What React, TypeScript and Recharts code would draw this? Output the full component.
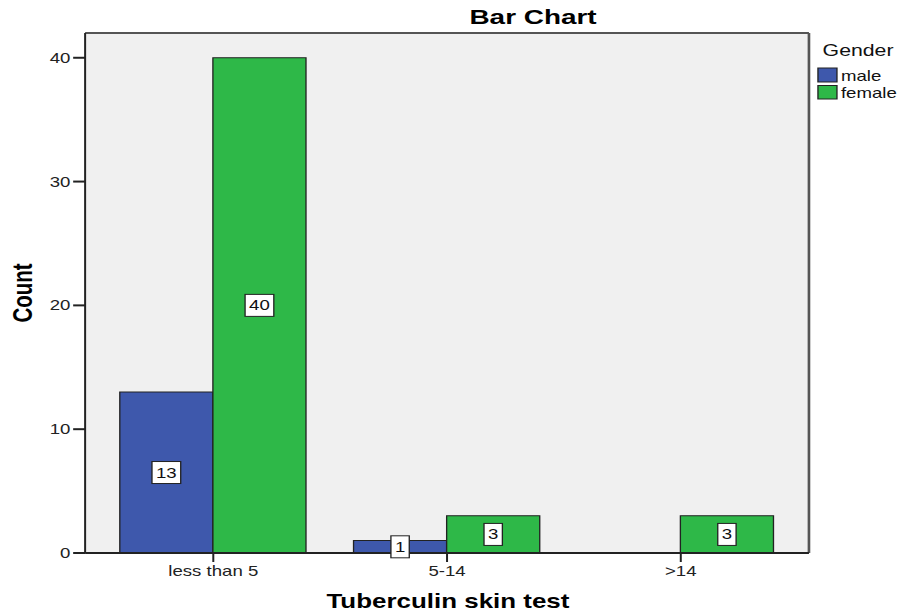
import { BarChart, Bar, XAxis, YAxis, CartesianGrid, LabelList } from 'recharts';

// SPSS export is stretched sideways, so draw narrow and scale the whole thing in x
const STRETCH = 1.33;
const WIDTH = 899 / STRETCH;
const HEIGHT = 616;

const categories = ['less than 5', '5-14', '>14'];
const maleCounts: (number | null)[] = [13, 1, null];
const femaleCounts: (number | null)[] = [40, 3, 3];
const yTicks = [0, 10, 20, 30, 40];

const MALE = '#3E58AC';
const FEMALE = '#2EB848';
const INK = '#222';
const FONT = '"Liberation Sans", Arial, sans-serif';

const data = categories.map((cat, i) => ({ cat, male: maleCounts[i], female: femaleCounts[i] }));

/** White boxed count in the middle of a bar, like SPSS data labels. */
function BoxLabel(props: any) {
  const { x, y, width, height, value } = props;
  if (value == null) return null;
  const cx = Number(x) + Number(width) / 2;
  const cy = Number(y) + Number(height) / 2;
  const w = String(value).length * 7.8 + 6;
  return (
    <g>
      <rect x={cx - w / 2} y={cy - 11} width={w} height={22} fill="#fff" stroke={INK} strokeWidth={1} />
      <text x={cx} y={cy + 5} textAnchor="middle" fontSize={14} fontFamily={FONT} fill="#111">{value}</text>
    </g>
  );
}

export default function App() {
  const tickStyle = { fill: INK, fontSize: 14, fontFamily: FONT };
  return (
    <div style={{ position: 'absolute', left: 0, top: 0, width: WIDTH, height: HEIGHT, transform: `scaleX(${STRETCH})`, transformOrigin: '0 0', background: '#fff' }}>
      <BarChart width={WIDTH} height={HEIGHT} data={data} margin={{ top: 33, right: 67.7, bottom: 33, left: 0 }} barCategoryGap="10%" barGap={0}>
        {/* grey plot area plus the top and right frame lines */}
        <CartesianGrid
          fill="#F0F0F0"
          stroke="#555"
          strokeWidth={2}
          horizontalCoordinatesGenerator={({ offset }: any) => [offset.top]}
          verticalCoordinatesGenerator={({ offset }: any) => [offset.left + offset.width]}
        />
        <XAxis dataKey="cat" height={30} padding={{ left: 8.5, right: 8.5 }} tick={tickStyle} tickSize={9} tickMargin={4.5} axisLine={{ stroke: INK, strokeWidth: 2 }} tickLine={{ stroke: INK, strokeWidth: 1.5 }} />
        <YAxis domain={[0, 42]} ticks={yTicks} width={64} tick={tickStyle} tickSize={9} tickMargin={2} axisLine={{ stroke: INK, strokeWidth: 1.5 }} tickLine={{ stroke: INK, strokeWidth: 2 }} />
        <Bar dataKey="male" fill={MALE} stroke={INK} strokeWidth={1} isAnimationActive={false}>
          <LabelList dataKey="male" content={BoxLabel} />
        </Bar>
        <Bar dataKey="female" fill={FEMALE} stroke={INK} strokeWidth={1} isAnimationActive={false}>
          <LabelList dataKey="female" content={BoxLabel} />
        </Bar>
      </BarChart>
      <svg width={WIDTH} height={HEIGHT} style={{ position: 'absolute', left: 0, top: 0, pointerEvents: 'none' }} fontFamily={FONT}>
        <text x={400.8} y={24} textAnchor="middle" fontSize={21} fontWeight="bold" fill="#000">Bar Chart</text>
        <text x={336.8} y={608} textAnchor="middle" fontSize={19.5} fontWeight="bold" fill="#000">Tuberculin skin test</text>
        <text transform="translate(24,293) rotate(-90)" textAnchor="middle" fontSize={20.5} fontWeight="bold" fill="#000" fontFamily={'"Liberation Sans Narrow", ' + FONT}>Count</text>
        <text x={618.5} y={56} fontSize={16} fill="#111">Gender</text>
        <rect x={615} y={68} width={14.3} height={14} fill={MALE} stroke={INK} strokeWidth={1} />
        <text x={632.3} y={81} fontSize={14} fill="#111">male</text>
        <rect x={615} y={85.5} width={14.3} height={13.5} fill={FEMALE} stroke={INK} strokeWidth={1} />
        <text x={632.3} y={98} fontSize={14} fill="#111">female</text>
      </svg>
    </div>
  );
}
